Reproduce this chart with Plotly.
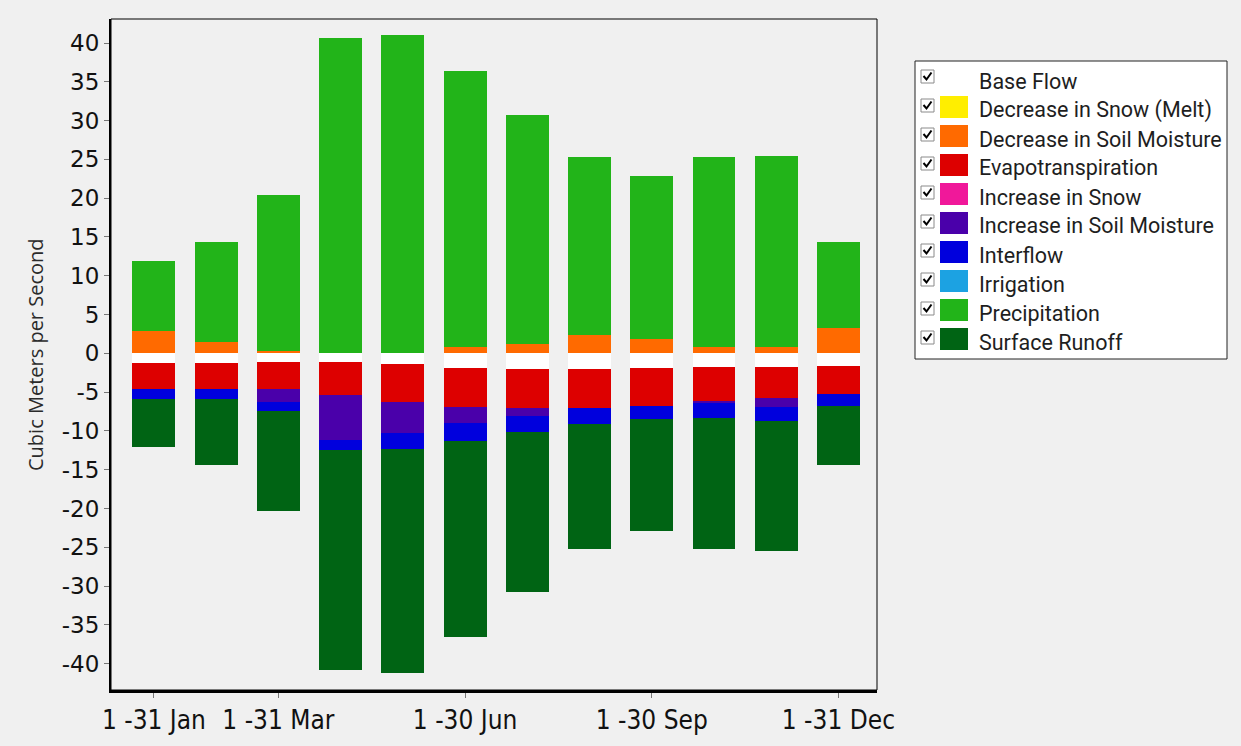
import plotly.graph_objects as go

# Monthly water balance (cubic meters per second)
months = ["Jan", "Feb", "Mar", "Apr", "May", "Jun",
          "Jul", "Aug", "Sep", "Oct", "Nov", "Dec"]
tick_months = ["Jan", "Mar", "Jun", "Sep", "Dec"]
tick_text = ["1 -31 Jan", "1 -31 Mar", "1 -30 Jun", "1 -30 Sep", "1 -31 Dec"]
y_ticks = [-40, -35, -30, -25, -20, -15, -10, -5, 0, 5, 10, 15, 20, 25, 30, 35, 40]
y_tick_text = ["-40", "-35", "-30", "-25", "-20", "-15", "-10", "-5", "0",
               "5", "10", "15", "20", "25", "30", "35", "40"]

base_flow = [-1.21, -1.21, -1.08, -1.08, -1.42, -1.93, -2.06, -2.06, -1.93, -1.80, -1.73, -1.60]
decrease_snow = [0, 0, 0, 0, 0, 0, 0, 0, 0, 0, 0, 0]
decrease_soil = [2.87, 1.42, 0.35, 0.0, 0.0, 0.77, 1.16, 2.36, 1.80, 0.77, 0.86, 3.22]
evapotranspiration = [-3.39, -3.39, -3.56, -4.29, -4.82, -5.03, -5.03, -5.03, -4.82, -4.43, -4.07, -3.69]
increase_snow = [0, 0, 0, 0, 0, 0, 0, 0, 0, 0, 0, 0]
increase_soil = [0, 0, -1.68, -5.80, -4.07, -1.98, -0.95, 0, 0, -0.21, -1.16, 0]
interflow = [-1.29, -1.29, -1.08, -1.29, -2.02, -2.36, -2.16, -2.02, -1.75, -1.93, -1.77, -1.47]
irrigation = [0, 0, 0, 0, 0, 0, 0, 0, 0, 0, 0, 0]
precipitation = [9.06, 12.88, 20.05, 40.70, 41.06, 35.63, 29.54, 22.90, 21.10, 24.49, 24.54, 11.08]
surface_runoff = [-6.15, -8.50, -12.89, -28.35, -28.83, -25.22, -20.59, -16.15, -14.39, -16.88, -16.75, -7.64]

series_names = ["Base Flow", "Decrease in Snow (Melt)", "Decrease in Soil Moisture",
                "Evapotranspiration", "Increase in Snow", "Increase in Soil Moisture",
                "Interflow", "Irrigation", "Precipitation", "Surface Runoff"]
series_values = [base_flow, decrease_snow, decrease_soil, evapotranspiration, increase_snow,
                 increase_soil, interflow, irrigation, precipitation, surface_runoff]
series_colors = ["#FFFFFF", "#FFEE00", "#FF6A00", "#DD0000", "#F0189A",
                 "#4A00AA", "#0000DD", "#1CA2E2", "#22B419", "#006414"]

BG = "#F0F0F0"
W, H = 1241, 746
# plot area in pixels
L, R, T, B = 111, 877, 19, 690

x_idx = list(range(len(months)))

fig = go.Figure()
for name, vals, col in zip(series_names, series_values, series_colors):
    fig.add_trace(go.Bar(
        x=x_idx, y=vals, name=name, width=0.69,
        marker=dict(color=col, line=dict(width=0)),
        showlegend=False,
    ))


def fx(px):
    return (px - L) / (R - L)


def fy(py):
    return (B - py) / (B - T)


shapes = []
annotations = []

# thin frame around the plot area
shapes.append(dict(type="rect", xref="paper", yref="paper", x0=0, x1=1, y0=0, y1=1,
                   line=dict(color="#000000", width=1), layer="above"))

# legend panel
lg_l, lg_r, lg_t, lg_b = 915, 1227, 61, 359
shapes.append(dict(type="rect", xref="paper", yref="paper",
                   x0=fx(lg_l), x1=fx(lg_r), y0=fy(lg_b), y1=fy(lg_t),
                   fillcolor="#FFFFFF", line=dict(color="#222222", width=1)))
row0, row_gap = 80, 29.0
for i, (name, col) in enumerate(zip(series_names, series_colors)):
    yc = row0 + i * row_gap
    # checkbox
    shapes.append(dict(type="rect", xref="paper", yref="paper",
                       x0=fx(921), x1=fx(934), y0=fy(yc + 3), y1=fy(yc - 10),
                       fillcolor="#FFFFFF", line=dict(color="#8A8A8A", width=1)))
    shapes.append(dict(type="path", xref="paper", yref="paper",
                       path=(f"M {fx(923.5)},{fy(yc - 4)} L {fx(926.5)},{fy(yc - 0.5)} "
                             f"L {fx(931.5)},{fy(yc - 7.5)}"),
                       line=dict(color="#000000", width=2)))
    # colour swatch
    shapes.append(dict(type="rect", xref="paper", yref="paper",
                       x0=fx(940), x1=fx(968), y0=fy(yc + 9), y1=fy(yc - 13),
                       fillcolor=col, line=dict(width=0)))
    annotations.append(dict(xref="paper", yref="paper", x=fx(977), y=fy(yc + 1),
                            text=name, showarrow=False, xanchor="left", yanchor="middle",
                            font=dict(family="Roboto, Open Sans, sans-serif", size=21.5,
                                      color="#1E1E1E")))

# vertical axis title
annotations.append(dict(xref="paper", yref="paper", x=fx(36), y=fy(355),
                        text="Cubic Meters per Second", textangle=-90, showarrow=False,
                        xanchor="center", yanchor="middle",
                        font=dict(family="Open Sans, Noto Sans, sans-serif", size=20,
                                  color="#2A2A2A")))

fig.update_layout(
    width=W, height=H,
    margin=dict(l=L, r=W - R, t=T, b=H - B, pad=0),
    paper_bgcolor=BG, plot_bgcolor=BG,
    barmode="relative", bargap=0,
    shapes=shapes, annotations=annotations,
    showlegend=False,
)

fig.update_xaxes(
    range=[-0.69, 11.62],
    tickmode="array",
    tickvals=[months.index(m) for m in tick_months],
    ticktext=tick_text,
    ticks="outside", ticklen=5, tickcolor="#777777", tickwidth=1,
    tickfont=dict(family="DejaVu Sans Condensed, Liberation Sans, sans-serif",
                  size=26, color="#111111"),
    showline=True, linecolor="#000000", linewidth=3,
    showgrid=False, zeroline=False, fixedrange=True,
)
fig.update_yaxes(
    range=[-43.4, 43.1],
    tickmode="array",
    tickvals=y_ticks,
    ticktext=y_tick_text,
    ticks="outside", ticklen=5, tickcolor="#777777", tickwidth=1,
    tickfont=dict(family="DejaVu Sans, Verdana, sans-serif", size=23, color="#111111"),
    showline=True, linecolor="#000000", linewidth=2,
    showgrid=False, zeroline=False, fixedrange=True,
)

fig.write_html("out.html")
